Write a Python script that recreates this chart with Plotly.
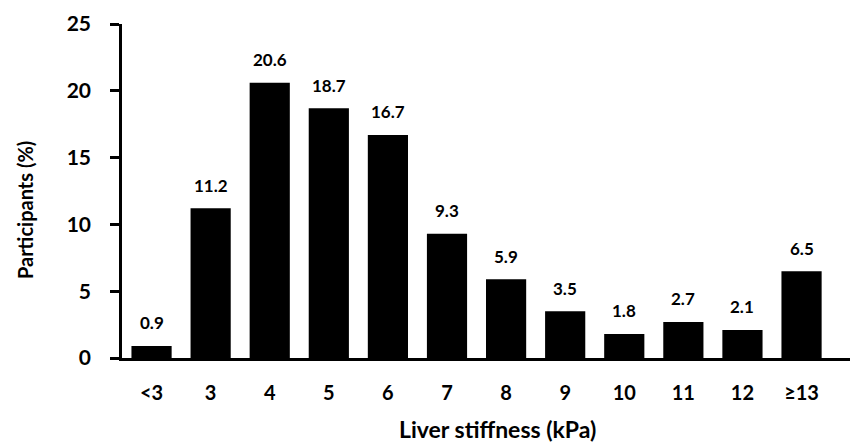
import plotly.graph_objects as go

categories = ["<3", "3", "4", "5", "6", "7", "8", "9", "10", "11", "12", "≥13"]
values = [0.9, 11.2, 20.6, 18.7, 16.7, 9.3, 5.9, 3.5, 1.8, 2.7, 2.1, 6.5]
labels = ["0.9", "11.2", "20.6", "18.7", "16.7", "9.3", "5.9", "3.5", "1.8", "2.7", "2.1", "6.5"]
x_title = "Liver stiffness (kPa)"
y_title = "Participants (%)"

FONT = "Lato"
xs = list(range(len(categories)))

fig = go.Figure(go.Bar(
    x=xs, y=values,
    marker=dict(color="black", line=dict(width=0)),
))

for xi, v, lab in zip(xs, values, labels):
    fig.add_annotation(
        x=xi, y=v, text=lab, showarrow=False, yanchor="middle", yshift=23,
        font=dict(family=FONT, size=17, color="black", weight="bold"),
    )

fig.add_annotation(
    xref="paper", yref="paper", x=0.5158, y=-0.212, xanchor="center", yanchor="middle",
    text=x_title, showarrow=False, borderpad=0,
    font=dict(family=FONT, size=23, color="black", weight="bold"),
)
fig.add_annotation(
    xref="paper", yref="paper", x=-0.1332, y=0.443, xanchor="center", yanchor="middle",
    text=y_title, showarrow=False, textangle=-90,
    font=dict(family=FONT, size=20, color="black", weight="bold"),
)

fig.update_layout(
    width=861, height=445,
    margin=dict(l=114, r=19, t=16, b=95, autoexpand=False),
    paper_bgcolor="white", plot_bgcolor="white",
    bargap=0.32, showlegend=False,
    font=dict(family=FONT, color="black"),
)
fig.update_xaxes(
    tickmode="array", tickvals=xs, ticktext=categories, automargin=False,
    range=[-0.5, 11.82], showline=True, linecolor="black", linewidth=2.5,
    ticks="outside", ticklen=15, tickcolor="rgba(0,0,0,0)", showgrid=False, zeroline=False,
    tickfont=dict(family=FONT, size=20, weight="bold"),
)
fig.update_yaxes(
    range=[0, 25], dtick=5, showline=True, linecolor="black", linewidth=2.5, automargin=False,
    ticks="outside", ticklen=9, tickwidth=2.5, tickcolor="black",
    ticklabelstandoff=15,
    showgrid=False, zeroline=False,
    tickfont=dict(family=FONT, size=21, weight="bold"),
)

fig.write_html("out.html")
